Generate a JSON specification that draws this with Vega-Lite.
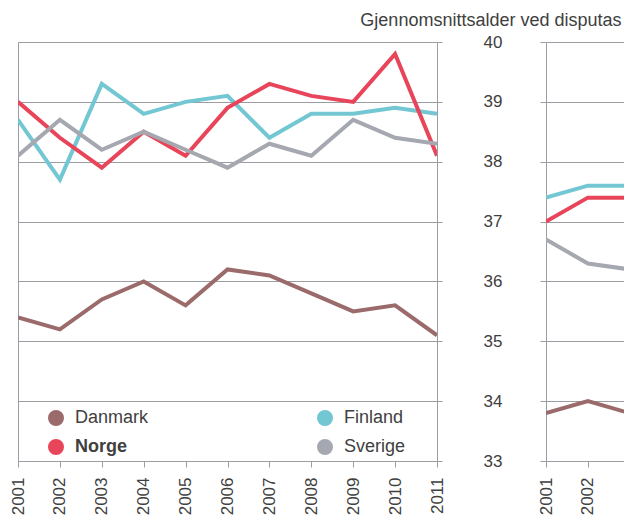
{
  "$schema": "https://vega.github.io/schema/vega-lite/v6.json",
  "background": "white",
  "padding": {"left": 8, "top": 10, "right": 0, "bottom": 0},
  "bounds": "flush",
  "spacing": 109,
  "config": {
    "font": "Liberation Sans",
    "view": {"stroke": "#9a9ea3", "strokeWidth": 1},
    "axis": {
      "labelFont": "Liberation Sans",
      "labelFontSize": 17,
      "labelColor": "#404040",
      "tickColor": "#9a9ea3",
      "domainColor": "#9a9ea3",
      "gridColor": "#9a9ea3",
      "gridOpacity": 1,
      "gridWidth": 1,
      "tickWidth": 1,
      "domainWidth": 1
    }
  },
  "datasets": {
    "venstre": [
      {"land": "Danmark", "year": 2001, "value": 35.4},
      {"land": "Danmark", "year": 2002, "value": 35.2},
      {"land": "Danmark", "year": 2003, "value": 35.7},
      {"land": "Danmark", "year": 2004, "value": 36.0},
      {"land": "Danmark", "year": 2005, "value": 35.6},
      {"land": "Danmark", "year": 2006, "value": 36.2},
      {"land": "Danmark", "year": 2007, "value": 36.1},
      {"land": "Danmark", "year": 2008, "value": 35.8},
      {"land": "Danmark", "year": 2009, "value": 35.5},
      {"land": "Danmark", "year": 2010, "value": 35.6},
      {"land": "Danmark", "year": 2011, "value": 35.1},
      {"land": "Finland", "year": 2001, "value": 38.7},
      {"land": "Finland", "year": 2002, "value": 37.7},
      {"land": "Finland", "year": 2003, "value": 39.3},
      {"land": "Finland", "year": 2004, "value": 38.8},
      {"land": "Finland", "year": 2005, "value": 39.0},
      {"land": "Finland", "year": 2006, "value": 39.1},
      {"land": "Finland", "year": 2007, "value": 38.4},
      {"land": "Finland", "year": 2008, "value": 38.8},
      {"land": "Finland", "year": 2009, "value": 38.8},
      {"land": "Finland", "year": 2010, "value": 38.9},
      {"land": "Finland", "year": 2011, "value": 38.8},
      {"land": "Norge", "year": 2001, "value": 39.0},
      {"land": "Norge", "year": 2002, "value": 38.4},
      {"land": "Norge", "year": 2003, "value": 37.9},
      {"land": "Norge", "year": 2004, "value": 38.5},
      {"land": "Norge", "year": 2005, "value": 38.1},
      {"land": "Norge", "year": 2006, "value": 38.9},
      {"land": "Norge", "year": 2007, "value": 39.3},
      {"land": "Norge", "year": 2008, "value": 39.1},
      {"land": "Norge", "year": 2009, "value": 39.0},
      {"land": "Norge", "year": 2010, "value": 39.8},
      {"land": "Norge", "year": 2011, "value": 38.1},
      {"land": "Sverige", "year": 2001, "value": 38.1},
      {"land": "Sverige", "year": 2002, "value": 38.7},
      {"land": "Sverige", "year": 2003, "value": 38.2},
      {"land": "Sverige", "year": 2004, "value": 38.5},
      {"land": "Sverige", "year": 2005, "value": 38.2},
      {"land": "Sverige", "year": 2006, "value": 37.9},
      {"land": "Sverige", "year": 2007, "value": 38.3},
      {"land": "Sverige", "year": 2008, "value": 38.1},
      {"land": "Sverige", "year": 2009, "value": 38.7},
      {"land": "Sverige", "year": 2010, "value": 38.4},
      {"land": "Sverige", "year": 2011, "value": 38.3}
    ],
    "hoyre": [
      {"land": "Danmark", "year": 2001, "value": 33.8},
      {"land": "Danmark", "year": 2002, "value": 34.0},
      {"land": "Danmark", "year": 2003, "value": 33.8},
      {"land": "Finland", "year": 2001, "value": 37.4},
      {"land": "Finland", "year": 2002, "value": 37.6},
      {"land": "Finland", "year": 2003, "value": 37.6},
      {"land": "Norge", "year": 2001, "value": 37.0},
      {"land": "Norge", "year": 2002, "value": 37.4},
      {"land": "Norge", "year": 2003, "value": 37.4},
      {"land": "Sverige", "year": 2001, "value": 36.7},
      {"land": "Sverige", "year": 2002, "value": 36.3},
      {"land": "Sverige", "year": 2003, "value": 36.2}
    ]
  },
  "hconcat": [
    {
      "width": 419,
      "height": 419,
      "data": {"name": "venstre"},
      "mark": {"type": "line", "strokeWidth": 4, "clip": true},
      "encoding": {
        "x": {
          "field": "year", "type": "quantitative",
          "scale": {"domain": [2001, 2011], "nice": false, "zero": false},
          "axis": {
            "values": [2001, 2002, 2003, 2004, 2005, 2006, 2007, 2008, 2009, 2010, 2011],
            "format": "d", "labelAngle": -90, "labelAlign": "right", "labelBaseline": "middle",
            "labelFlush": false, "labelOverlap": false, "labelBound": false,
            "tickSize": 6, "labelPadding": 10, "domain": false, "grid": false, "title": null
          }
        },
        "y": {
          "field": "value", "type": "quantitative",
          "scale": {"domain": [33, 40], "nice": false, "zero": false},
          "axis": {
            "orient": "right",
            "values": [33, 34, 35, 36, 37, 38, 39, 40],
            "grid": true, "domain": false, "tickSize": 5, "labelPadding": 41,
            "labelAlign": "left", "labelBaseline": "middle", "labelFlush": false, "labelOverlap": false,
            "title": "Gjennomsnittsalder ved disputas",
            "titleAngle": 0, "titleAlign": "right", "titleBaseline": "alphabetic",
            "titleX": 184, "titleY": -17,
            "titleFont": "Liberation Sans", "titleFontSize": 18, "titleFontWeight": "normal", "titleColor": "#404040"
          }
        },
        "stroke": {
          "field": "land", "type": "nominal",
          "scale": {"domain": ["Danmark", "Finland", "Norge", "Sverige"], "range": ["#9b6b6b", "#72c7d3", "#e8445a", "#a5a8b0"]},
          "legend": {
            "title": null, "orient": "none", "direction": "horizontal", "legendX": 29, "legendY": 367,
            "columns": 2, "columnPadding": 156, "rowPadding": -20, "padding": 0,
            "symbolType": "circle", "symbolSize": 64, "symbolOpacity": 1, "symbolStrokeWidth": 8,
            "labelFont": "Liberation Sans", "labelFontSize": 18, "labelColor": "#404040", "labelOffset": 10,
            "labelLimit": 300,
            "encode": {
              "symbols": {"update": {"opacity": {"value": 1}, "size": {"value": 64}, "strokeWidth": {"value": 8}}},
              "labels": {"update": {"fontWeight": {"signal": "datum.label === 'Norge' ? 'bold' : 'normal'"}}}
            }
          }
        }
      }
    },
    {
      "width": 78,
      "height": 419,
      "view": {"stroke": null},
      "data": {"name": "hoyre"},
      "mark": {"type": "line", "strokeWidth": 4, "clip": true},
      "encoding": {
        "x": {
          "field": "year", "type": "quantitative",
          "scale": {"domain": [2001, 2002.862], "nice": false, "zero": false},
          "axis": {
            "values": [2001, 2002],
            "format": "d", "labelAngle": -90, "labelAlign": "right", "labelBaseline": "middle",
            "labelFlush": false, "labelOverlap": false, "labelBound": false,
            "tickSize": 6, "labelPadding": 10, "domain": true, "grid": false, "title": null
          }
        },
        "y": {
          "field": "value", "type": "quantitative",
          "scale": {"domain": [33, 40], "nice": false, "zero": false},
          "axis": {
            "orient": "left",
            "values": [33, 34, 35, 36, 37, 38, 39, 40],
            "grid": true, "domain": true, "tickSize": 6, "labels": false, "title": null
          }
        },
        "stroke": {
          "field": "land", "type": "nominal",
          "scale": {"domain": ["Danmark", "Finland", "Norge", "Sverige"], "range": ["#9b6b6b", "#72c7d3", "#e8445a", "#a5a8b0"]},
          "legend": null
        }
      }
    }
  ],
  "resolve": {
    "scale": {"x": "independent", "y": "independent", "stroke": "independent"},
    "legend": {"stroke": "independent"}
  }
}
